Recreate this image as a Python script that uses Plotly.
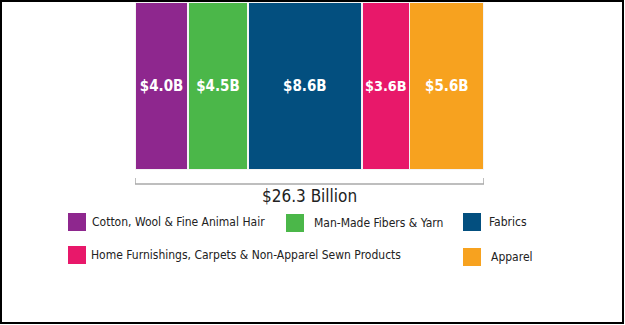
import plotly.graph_objects as go

categories = ["Cotton, Wool & Fine Animal Hair", "Man-Made Fibers & Yarn", "Fabrics",
              "Home Furnishings, Carpets & Non-Apparel Sewn Products", "Apparel"]
values = [4.0, 4.5, 8.6, 3.6, 5.6]
labels = ["$4.0B", "$4.5B", "$8.6B", "$3.6B", "$5.6B"]
colors = ["#8E278E", "#4BB749", "#034F7F", "#E8186A", "#F7A21F"]
total_label = "$26.3 Billion"

W, H = 625, 325
ML, MR, MT, MB = 135, 141, 2, 155
PW, PH = W - ML - MR, H - MT - MB
FONT = "DejaVu Sans Condensed, Liberation Sans Narrow, Arial Narrow, sans-serif"


def px(x):
    return (x - ML) / PW


def py(y):
    return (H - MB - y) / PH


fig = go.Figure()
for name, v, lab, c in zip(categories, values, labels, colors):
    fig.add_trace(go.Bar(
        x=[v], y=[0], orientation="h", name=name, width=1,
        marker=dict(color=c, line=dict(color="#f4f4f4", width=1.5)),
        text=[lab], textposition="inside", insidetextanchor="middle", textangle=0,
        textfont=dict(family=FONT, size=15, color="white", weight="bold"),
        showlegend=False, hoverinfo="skip",
    ))

total = sum(values)
fig.update_layout(
    barmode="stack", width=W, height=H,
    margin=dict(l=ML, r=MR, t=MT, b=MB),
    paper_bgcolor="white", plot_bgcolor="white",
    xaxis=dict(range=[0, total], visible=False, fixedrange=True),
    yaxis=dict(range=[-0.5, 0.5], visible=False, fixedrange=True),
)

# bracket under bars
br_y, br_top = py(184), py(178)
line = dict(color="#a8a8a8", width=1.5)
fig.add_shape(type="line", xref="x", yref="paper", x0=0, x1=total, y0=br_y, y1=br_y, line=line)
fig.add_shape(type="line", xref="x", yref="paper", x0=0, x1=0, y0=br_y, y1=br_top, line=line)
fig.add_shape(type="line", xref="x", yref="paper", x0=total, x1=total, y0=br_y, y1=br_top, line=line)
fig.add_annotation(x=total / 2, y=py(196), xref="x", yref="paper", text=total_label,
                   showarrow=False, yanchor="middle",
                   font=dict(family=FONT, size=17, color="#222222"))

# legend (custom layout)
leg = [
    (68, 222, 90),
    (286, 223, 312),
    (463, 222, 487),
    (68, 255, 89),
    (463, 257, 489),
]
for (sx, cy, tx), name, c in zip(leg, categories, colors):
    fig.add_shape(type="rect", xref="paper", yref="paper",
                  x0=px(sx), x1=px(sx + 18), y0=py(cy - 9), y1=py(cy + 9),
                  fillcolor=c, line=dict(width=0))
    fig.add_annotation(x=px(tx), y=py(cy), xref="paper", yref="paper", text=name,
                       showarrow=False, xanchor="left", yanchor="middle",
                       font=dict(family=FONT, size=12, color="#222222"))

# outer frame
fig.add_shape(type="rect", xref="paper", yref="paper",
              x0=px(1), x1=px(623), y0=py(1), y1=py(323),
              line=dict(color="black", width=2), fillcolor="rgba(0,0,0,0)")

fig.write_html("out.html", config=dict(displayModeBar=False))
